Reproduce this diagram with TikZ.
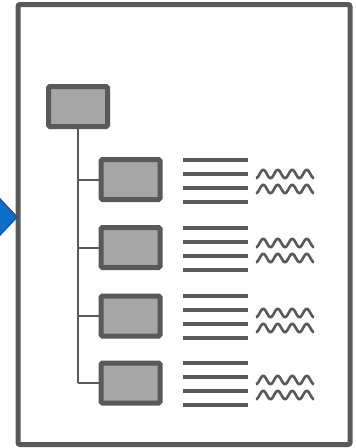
\documentclass[tikz,border=0pt]{standalone}
\usepackage{tikz}

\definecolor{framegray}{HTML}{595959}
\definecolor{boxfill}{HTML}{A6A6A6}
\definecolor{arrowfill}{HTML}{0B6FCB}
\definecolor{arrowedge}{HTML}{1D5499}

\tikzset{
  orgbox/.style={draw=framegray, fill=boxfill, line width=5pt, rounded corners=1.5pt,
    minimum width=59pt, minimum height=40pt, inner sep=0pt},
  treeline/.style={draw=framegray, line width=2pt},
  textline/.style={draw=framegray, line width=4pt},
  wavyline/.style={draw=framegray, line width=2.6pt, line join=round}
}

\begin{document}
\begin{tikzpicture}[x=1pt,y=-1pt]
  \useasboundingbox (0,0) rectangle (356,448);

  % page frame
  \draw[framegray, line width=5pt, rounded corners=2pt] (18,4.5) rectangle (350,444.5);

  % blue marker on the left edge
  \begin{scope}
    \clip (0,0) rectangle (356,448);
    \draw[draw=arrowedge, fill=arrowfill, line width=1.5pt] (0,199) -- (17,217) -- (0,235) -- (-17,217) -- cycle;
  \end{scope}

  % root box
  \node[orgbox] (root) at (78,106.5) {};

  % child boxes, lines and waves
  % \y = centre of the row, \w = shift of the waves
  \foreach \y/\n/\w in {179.5/1/-5.5, 247.5/2/-4.5, 316/3/-3, 383/4/-3}{
    \node[orgbox] (c\n) at (130.5,\y) {};
    \draw[treeline] (root.south |- c\n.west) -- (c\n.west);
    \foreach \d in {-20,-6,8,22}
      \draw[textline] (183,\y+\d) -- (248,\y+\d);
    \foreach \s in {0,15}
      \draw[wavyline] plot[domain=0:58, samples=80, smooth]
        ({256+\x},{\y+\w+\s+4.2*cos(\x/14.5*360)});
  }

  % trunk of the tree
  \draw[treeline] (root.south) -- (root.south |- c4.west);
\end{tikzpicture}
\end{document}
